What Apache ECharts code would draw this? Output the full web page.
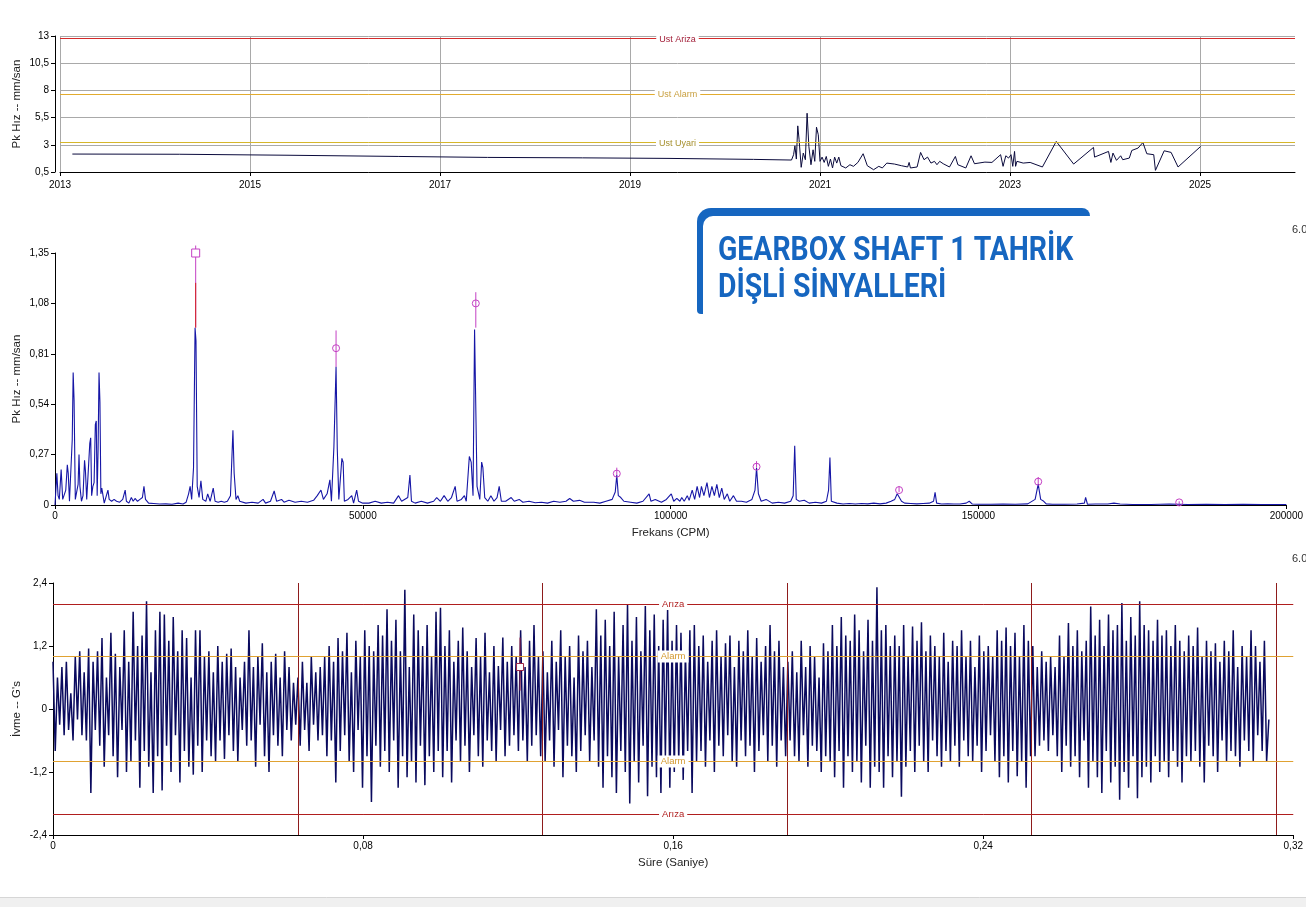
<!DOCTYPE html>
<html><head><meta charset="utf-8">
<script src="https://cdn.jsdelivr.net/npm/echarts@6/dist/echarts.min.js"></script>
<style>html,body{margin:0;padding:0;background:#fff;overflow:hidden}#c{width:1306px;height:907px}</style>
</head><body><div id="c"></div>
<script>
// ---------- DATA ----------
// Trend (top): [year, Pk velocity mm/s]
const trendPoints = [[2013.13,2.15],[2014.26,2.13],[2014.28,2.06],[2015.40,2.04],[2015.42,1.97],[2016.56,1.93],[2016.58,1.88],[2017.5,1.84],[2018.5,1.80],[2019.4,1.75],[2020.3,1.66],[2020.70,1.60],
[2020.722,2.09],[2020.736,2.91],[2020.751,1.69],[2020.766,4.74],[2020.780,3.46],[2020.802,0.93],[2020.824,2.24],[2020.846,1.63],[2020.864,5.90],[2020.883,2.85],[2020.905,1.17],[2020.927,2.54],[2020.945,1.48],[2020.963,4.62],[2020.982,3.92],
[2021.0,1.48],[2021.022,1.87],[2021.044,1.38],[2021.066,1.93],[2021.088,1.02],[2021.110,1.69],[2021.132,0.87],[2021.154,1.87],[2021.176,1.32],[2021.198,1.87],[2021.220,1.08],[2021.271,0.87],[2021.315,1.17],[2021.352,1.02],[2021.399,1.38],[2021.454,2.18],[2021.498,1.08],[2021.564,0.71],[2021.619,1.02],[2021.656,0.87],[2021.703,1.32],[2021.784,1.23],[2021.857,1.08],[2021.923,0.96],[2021.938,1.38],[2021.952,0.87],
[2022.022,0.96],[2022.059,2.30],[2022.095,1.63],[2022.132,1.87],[2022.168,1.32],[2022.205,1.48],[2022.231,1.17],[2022.260,1.48],[2022.297,1.26],[2022.363,0.96],[2022.425,1.93],[2022.451,1.17],[2022.535,0.87],[2022.590,1.99],[2022.626,1.26],[2022.736,1.41],[2022.810,1.38],[2022.901,2.09],[2022.927,1.02],[2022.956,1.99],[2022.985,1.78],
[2023.011,2.09],[2023.029,1.02],[2023.048,2.39],[2023.059,1.02],[2023.073,1.48],[2023.139,1.32],[2023.212,1.38],[2023.341,0.96],[2023.487,3.31],[2023.670,1.23],[2023.879,2.76],[2023.890,1.87],
[2024.037,2.39],[2024.062,1.38],[2024.084,2.24],[2024.121,1.57],[2024.165,1.99],[2024.187,1.63],[2024.256,1.78],[2024.282,2.48],[2024.348,2.70],[2024.399,3.21],[2024.440,2.18],[2024.513,2.09],[2024.531,0.65],[2024.623,2.45],[2024.696,2.30],[2024.769,0.96],[2025.007,2.85]];
const trendLimitValues = [12.75, 7.65, 3.2];
const trendLimitNames = ['Ust Ariza', 'Ust Alarm', 'Ust Uyari'];

// Spectrum (middle): [CPM, Pk velocity mm/s]
const spectrum = [[0,0.0],[300,0.17],[500,0.05],[700,0.03],[1000,0.19],[1250,0.03],[1500,0.02],[1750,0.08],[2000,0.215],[2150,0.17],[2350,0.02],[2600,0.03],[2800,0.35],[2950,0.71],[3100,0.56],[3300,0.03],[3500,0.02],[3750,0.11],[3900,0.27],[4050,0.1],[4300,0.02],[4550,0.05],[4800,0.24],[4950,0.18],[5150,0.03],[5400,0.04],[5650,0.33],[5800,0.36],[5950,0.05],[6150,0.1],[6350,0.12],[6550,0.43],[6700,0.45],[6850,0.05],[7000,0.3],[7150,0.71],[7300,0.55],[7450,0.06],[7600,0.09],[7800,0.09],[8000,0.01],[8300,0.02],[8600,0.08],[8800,0.03],[9200,0.02],[9600,0.03],[10000,0.02],[10500,0.015],[11000,0.03],[11400,0.08],[11600,0.02],[12000,0.01],[12400,0.04],[12700,0.02],[13000,0.035],[13400,0.02],[13800,0.03],[14200,0.04],[14450,0.1],[14700,0.03],[15200,0.01],[16000,0.008],[17000,0.005],[18000,0.006],[19000,0.004],[20000,0.01],[20800,0.005],[21300,0.015],[21700,0.06],[21950,0.1],[22200,0.03],[22500,0.2],[22750,0.95],[22900,0.88],[23100,0.1],[23400,0.04],[23700,0.13],[24000,0.03],[24500,0.02],[24800,0.06],[25200,0.02],[25700,0.09],[26000,0.02],[26500,0.015],[27000,0.02],[27500,0.015],[28000,0.02],[28500,0.05],[28900,0.4],[29100,0.17],[29400,0.03],[29700,0.05],[30000,0.02],[31000,0.01],[32000,0.015],[33000,0.01],[33800,0.03],[34200,0.01],[35000,0.02],[35600,0.075],[36000,0.02],[36800,0.03],[37200,0.015],[38000,0.025],[39000,0.015],[40000,0.02],[41000,0.015],[42000,0.025],[42600,0.05],[43200,0.08],[43600,0.03],[44200,0.06],[44650,0.135],[44900,0.02],[45300,0.31],[45650,0.74],[45850,0.3],[46100,0.03],[46600,0.25],[46800,0.23],[47000,0.02],[47600,0.03],[48200,0.05],[48500,0.01],[49000,0.08],[49300,0.02],[50000,0.01],[51000,0.01],[52000,0.02],[53000,0.01],[54000,0.015],[55000,0.01],[55800,0.05],[56300,0.02],[57300,0.04],[57650,0.16],[57900,0.02],[58500,0.01],[59500,0.02],[60500,0.01],[61500,0.02],[62000,0.04],[62600,0.02],[63200,0.05],[63800,0.02],[64400,0.04],[65000,0.1],[65300,0.02],[66000,0.03],[66500,0.05],[66800,0.02],[67300,0.26],[67600,0.23],[67900,0.05],[68150,0.94],[68350,0.95],[68550,0.1],[69000,0.03],[69300,0.23],[69500,0.2],[69800,0.04],[70300,0.02],[70800,0.05],[71300,0.02],[71800,0.04],[72150,0.1],[72500,0.02],[73200,0.02],[74100,0.04],[74600,0.02],[75400,0.03],[76000,0.015],[77000,0.02],[78000,0.012],[79000,0.015],[80000,0.01],[81000,0.02],[82000,0.015],[83000,0.02],[83600,0.035],[84200,0.02],[85200,0.025],[86000,0.015],[87500,0.015],[88500,0.01],[89500,0.02],[90500,0.03],[91000,0.07],[91250,0.16],[91500,0.05],[91900,0.04],[92400,0.02],[93500,0.015],[94500,0.01],[95500,0.02],[96500,0.06],[96800,0.02],[97500,0.03],[98500,0.015],[99300,0.03],[100100,0.06],[100500,0.02],[101000,0.035],[101500,0.02],[101800,0.04],[102200,0.02],[102700,0.05],[103000,0.025],[103500,0.08],[103900,0.03],[104300,0.1],[104700,0.04],[105000,0.1],[105400,0.05],[105900,0.12],[106300,0.04],[106700,0.1],[107100,0.05],[107500,0.11],[107900,0.04],[108300,0.09],[108700,0.03],[109200,0.06],[109600,0.02],[110200,0.05],[110700,0.02],[111500,0.02],[112300,0.015],[113200,0.03],[113700,0.08],[113950,0.2],[114250,0.06],[114700,0.02],[115500,0.03],[116500,0.01],[117500,0.015],[118500,0.01],[119500,0.02],[119900,0.05],[120150,0.317],[120400,0.03],[120900,0.02],[121700,0.025],[122500,0.01],[123500,0.015],[124500,0.01],[125300,0.02],[125650,0.08],[125870,0.255],[126100,0.02],[127000,0.01],[128000,0.005],[129000,0.008],[130000,0.005],[131000,0.008],[132000,0.006],[133000,0.01],[134000,0.006],[135000,0.01],[135800,0.02],[136400,0.03],[136800,0.06],[137100,0.07],[137500,0.02],[138000,0.01],[139000,0.008],[140000,0.006],[141000,0.008],[142000,0.01],[142700,0.02],[142950,0.068],[143200,0.01],[144000,0.005],[145000,0.006],[146000,0.005],[147000,0.005],[148000,0.01],[148500,0.02],[149000,0.005],[150000,0.004],[152000,0.004],[154000,0.005],[156000,0.004],[158000,0.006],[159200,0.03],[159700,0.112],[160100,0.03],[160600,0.02],[161000,0.006],[162000,0.004],[164000,0.004],[166000,0.005],[167200,0.01],[167400,0.041],[167700,0.004],[169000,0.005],[171000,0.005],[172000,0.01],[173000,0.005],[175000,0.003],[178000,0.003],[181000,0.005],[184000,0.003],[187000,0.004],[190000,0.003],[193000,0.004],[196000,0.003],[200000,0.003]];

// Harmonic cursor markers (middle)
const harmFreq  = [22850, 45650, 68350, 91250, 113950, 137100, 159700, 182600];
const harmBase  = [0.95, 0.74, 0.95, 0.16, 0.20, 0.07, 0.112, 0.004];
const harmMark  = [1.35, 0.84, 1.08, 0.168, 0.205, 0.08, 0.125, 0.014];
const harmTop   = [1.39, 0.935, 1.14, 0.20, 0.235, 0.10, 0.15, 0.02];
const harmRed   = [1.19, 0, 0, 0, 0, 0, 0, 0];
const harmShape = [1, 0, 0, 0, 0, 0, 0, 0];

// Waveform (bottom): acceleration G's, one array per shaft revolution
const waveRev1 = [0.9,-0.8,0.6,-0.3,0.8,-0.5,0.9,-0.4,0.3,
-0.6,1.0,-0.2,1.1,-0.5,0.7,-0.6,1.15,-1.6,0.9,-0.4,1.1,
-0.7,1.35,-1.1,0.6,-0.5,1.45,-0.9,1.05,-1.3,0.8,-0.4,1.5,-1.2,0.9,
-1.0,1.85,-0.6,1.2,-1.5,1.4,-0.8,2.05,-1.1,0.7,-1.6,1.5,-0.9,1.85,-1.55,1.8,-0.7,
1.3,-1.2,1.75,-0.5,1.1,-1.4,1.5,-0.8,1.35,-1.1,0.6,-1.25,1.5,-0.7,1.5,-1.2,1.0,-0.6,
1.1,-0.9,0.7,-1.0,1.2,-0.6,0.9,-0.95,1.05,-0.5,1.15,-0.8,0.8,-1.0,0.6,-0.4,0.9,
-0.7,1.5,-0.6,0.8,-1.1,1.0,-0.3,1.25,-0.9,0.7,-1.2,0.9,-0.5,1.05,-0.7,0.6,-0.9,1.1,-0.4,0.8,-0.6,0.5,-0.3];
const waveRev2 = [0.6,-0.7,0.9,-0.4,0.5,-0.8,1.0,-0.3,0.7,-0.6,0.8,-0.5,
1.0,-0.9,1.2,-0.6,0.9,-1.4,1.35,-0.8,1.1,-0.5,1.45,-1.0,0.7,-1.2,1.3,-0.4,1.0,-1.5,1.5,-0.9,1.2,-1.77,1.1,-0.7,1.6,-1.1,
1.4,-0.8,1.9,-1.2,1.3,-0.6,1.7,-1.5,1.1,-0.9,2.27,-1.3,0.8,-1.0,1.8,-1.4,1.5,-0.7,1.2,-1.45,1.6,-0.9,1.0,-1.2,1.85,-0.8,
1.93,-1.3,1.2,-0.8,1.5,-1.4,0.9,-0.6,1.3,-1.0,1.55,-0.7,1.1,-1.2,0.8,-0.5,1.35,-0.9,1.0,-1.1,1.45,-0.6,0.7,-0.8,1.2,-1.0,0.82,-0.4,1.36,-0.9,0.9,-0.7,1.2,-0.5,1.0,-0.8,1.5,-0.6,0.8,-1.0,1.3,-0.7,1.6,-0.5,1.0,-0.9];
const waveRev3 = [1.1,-1.0,0.7,-0.6,1.3,-1.1,0.9,-0.4,1.5,-1.3,1.0,-0.7,1.2,-0.9,0.6,-1.2,1.4,-0.8,1.1,-0.5,1.3,-1.0,0.8,-0.6,
1.9,-1.1,1.4,-1.5,1.7,-0.9,1.2,-1.3,1.85,-1.6,1.0,-0.8,1.6,-1.2,2.0,-1.8,1.3,-1.0,1.75,-1.4,1.1,-0.7,1.96,-1.66,1.5,-1.1,1.8,-1.3,1.2,-1.6,1.7,-0.9,1.9,-1.5,1.3,-1.2,1.6,-1.0,1.45,-1.35,1.1,-0.8,1.5,-1.6,
1.6,-1.0,1.2,-0.8,1.4,-1.1,0.9,-0.6,1.3,-1.2,1.5,-0.7,1.0,-0.9,1.25,-0.5,1.4,-1.0,0.8,-1.1,1.3,-0.6,1.1,-0.9,1.5,-0.7,1.0,-1.2,1.35,-0.8,0.9,-0.5,1.2,-1.0,1.6,-0.7,1.1,-1.1,1.3,-0.6,0.8,-0.9];
const waveRev4 = [0.9,-0.6,1.1,-0.9,0.7,-1.0,1.3,-0.5,0.8,-1.1,1.2,-0.7,1.0,-0.8,0.6,-1.2,1.25,-0.9,1.1,
-1.0,1.6,-1.3,1.2,-0.8,1.75,-1.5,1.4,-0.9,1.3,-1.2,1.8,-1.0,1.5,-1.4,1.1,-0.7,1.7,-1.5,1.3,-1.1,2.32,-1.2,1.5,-1.5,1.6,-0.9,1.2,-1.3,1.4,-1.0,
1.2,-1.67,1.6,-1.1,1.0,-0.8,1.57,-1.2,1.3,-0.7,1.65,-1.0,1.1,-1.2,1.4,-0.6,1.2,-0.9,1.0,-1.1,1.45,-0.8,0.9,-1.0,1.3,-0.7,1.2,-1.1,1.5,-0.6,1.0,-0.9,1.3,-1.0,0.8,-0.7,1.4,-1.2,1.1,-0.8,1.2,-0.5,1.0,-1.0,1.5,-1.3,1.3,-0.9,1.55,-1.4,1.2,-0.8,1.45,-1.28,1.0,-1.0,1.6,-1.5,1.3,-0.9];
const waveRev5 = [1.2,-0.9,0.8,-0.7,1.1,-0.6,0.9,-0.8,1.0,-0.5,0.8,
-0.9,1.4,-1.2,1.0,-0.7,1.64,-1.1,1.2,-0.9,1.5,-1.3,1.1,-0.6,1.3,
-1.5,1.95,-1.0,1.4,-1.3,1.7,-1.6,1.2,-0.8,1.8,-1.4,1.5,-1.1,1.6,-1.73,2.02,-1.2,1.3,-1.5,1.75,-0.9,1.4,-1.7,2.05,-1.3,1.6,-1.1,1.5,-1.4,1.3,-0.9,1.7,-1.2,1.4,-1.0,1.5,-1.3,1.2,-0.8,1.6,-1.1,1.3,-1.4,1.1,-0.9,
1.4,-1.0,1.2,-0.8,1.55,-1.1,1.0,-1.4,1.3,-0.7,1.1,-0.9,1.25,-1.2,0.9,-0.6,1.3,-1.0,1.1,-0.8,1.5,-0.9,0.8,-1.1,1.2,-0.6,1.0,-0.8,1.5,-1.0,1.2,-0.5,0.9,-0.8,1.3,-1.0,-0.2];
const waveDuration = 0.3137;           // seconds covered by the record
const waveLimitValues = [2.0, 1.0, -1.0, -2.0];
const waveLimitNames  = ['Arıza', 'Alarm', 'Alarm', 'Arıza'];
const revMarks = [0.0631, 0.1262, 0.1893, 0.2524, 0.3155];
const waveCursor = [0.1205, 0.8, 1.36, 0.35]; // time, marker value, line top, line bottom

// ---------- BUILD ----------
const wave = [].concat(waveRev1, waveRev2, waveRev3, waveRev4, waveRev5);
const dt = waveDuration / (wave.length - 1);
const waveData = wave.map((v, i) => [i * dt, v]);
const harmData = harmFreq.map((f, i) => [f, harmBase[i], harmMark[i], harmTop[i], harmRed[i], harmShape[i]]);

const FONT = 'Liberation Sans, Arial, sans-serif';
const comma = (v, d) => { const r = Number(v.toFixed(d)); return String(r).replace('.', ','); };
const lbl = (fmt) => ({ fontFamily: FONT, fontSize: 10, color: '#000', margin: 6, formatter: fmt });
const axLine = { show: true, onZero: false, lineStyle: { color: '#000', width: 1 } };
const axTick = { show: true, length: 4, lineStyle: { color: '#000' } };
const nameStyle = { fontFamily: FONT, fontSize: 11.5, color: '#222' };

const chart = echarts.init(document.getElementById('c'), null, { renderer: 'canvas' });

const trendColors = ['#d42a2a', '#e2ab2e', '#d6b62a'];
const trendLabelColors = ['#a3203a', '#c9a040', '#a58f2c'];
const waveColors = ['#b01e1e', '#e0a232', '#e0a232', '#b01e1e'];
const waveLabelColors = ['#b01e1e', '#d49a30', '#d49a30', '#b01e1e'];

const option = {
  animation: false,
  backgroundColor: '#fff',
  grid: [
    { left: 60, right: 11, top: 36, height: 136 },
    { left: 55, right: 9, top: 253, height: 252 },
    { left: 53, right: 11, top: 583, height: 252 }
  ],
  xAxis: [
    { gridIndex: 0, type: 'value', min: 2013, max: 2026, interval: 2,
      axisLine: axLine, axisTick: axTick,
      axisLabel: Object.assign(lbl(v => String(v)), { showMaxLabel: false, margin: 8 }),
      splitLine: { show: true, showMaxLine: false, lineStyle: { color: '#a9a9a9', width: 1 } } },
    { gridIndex: 1, type: 'value', min: 0, max: 200000, interval: 50000,
      axisLine: axLine, axisTick: axTick, axisLabel: lbl(v => String(v)), splitLine: { show: false },
      name: 'Frekans (CPM)', nameLocation: 'middle', nameGap: 22, nameMoveOverlap: false, nameTextStyle: nameStyle },
    { gridIndex: 2, type: 'value', min: 0, max: 0.32, interval: 0.08,
      axisLine: axLine, axisTick: axTick, axisLabel: lbl(v => comma(v, 2)), splitLine: { show: false },
      name: 'Süre (Saniye)', nameLocation: 'middle', nameGap: 22, nameMoveOverlap: false, nameTextStyle: nameStyle }
  ],
  yAxis: [
    { gridIndex: 0, type: 'value', min: 0.5, max: 13, interval: 2.5, offset: 5,
      axisLine: axLine, axisTick: axTick, axisLabel: lbl(v => comma(v, 1)),
      splitLine: { show: true, lineStyle: { color: '#a9a9a9', width: 1 } },
      name: 'Pk Hız -- mm/san', nameLocation: 'middle', nameGap: 32, nameMoveOverlap: false, nameTextStyle: nameStyle },
    { gridIndex: 1, type: 'value', min: 0, max: 1.35, interval: 0.27,
      axisLine: axLine, axisTick: axTick, axisLabel: lbl(v => comma(v, 2)), splitLine: { show: false },
      name: 'Pk Hız -- mm/san', nameLocation: 'middle', nameGap: 32, nameMoveOverlap: false, nameTextStyle: nameStyle },
    { gridIndex: 2, type: 'value', min: -2.4, max: 2.4, interval: 1.2,
      axisLine: axLine, axisTick: axTick, axisLabel: lbl(v => comma(v, 1)), splitLine: { show: false },
      name: 'İvme -- G\'s', nameLocation: 'middle', nameGap: 30, nameMoveOverlap: false, nameTextStyle: nameStyle }
  ],
  series: [
    { type: 'line', xAxisIndex: 0, yAxisIndex: 0, data: [], z: 1,
      markLine: { silent: true, symbol: 'none', animation: false, precision: 3,
        data: trendLimitValues.map((v, i) => ({ yAxis: v,
          lineStyle: { color: trendColors[i], width: 1, type: 'solid' },
          label: { show: true, position: 'middle', formatter: trendLimitNames[i], color: trendLabelColors[i],
            fontFamily: FONT, fontSize: 9, backgroundColor: '#fff', padding: [1, 3], distance: -6 } })) } },
    { type: 'line', xAxisIndex: 0, yAxisIndex: 0, data: trendPoints, showSymbol: false, z: 3,
      lineStyle: { color: '#0a0a3c', width: 1 } },
    { type: 'line', xAxisIndex: 1, yAxisIndex: 1, data: spectrum, showSymbol: false, z: 3, sampling: 'none',
      lineStyle: { color: '#1616a6', width: 1.1 } },
    { type: 'custom', xAxisIndex: 1, yAxisIndex: 1, data: harmData, z: 4, clip: false,
      renderItem: function (params, api) {
        const f = api.value(0);
        const pB = api.coord([f, api.value(1)]);
        const pM = api.coord([f, api.value(2)]);
        const pT = api.coord([f, api.value(3)]);
        const ch = [{ type: 'line', shape: { x1: pB[0], y1: pB[1], x2: pT[0], y2: pT[1] }, style: { stroke: '#c440c4', lineWidth: 1 } }];
        const red = api.value(4);
        if (red > 0) {
          const pR = api.coord([f, red]);
          ch.push({ type: 'line', shape: { x1: pB[0], y1: pB[1], x2: pR[0], y2: pR[1] }, style: { stroke: '#d42020', lineWidth: 1 } });
        }
        if (api.value(5) === 1) ch.push({ type: 'rect', shape: { x: pM[0] - 4, y: pM[1] - 4, width: 8, height: 8 }, style: { stroke: '#c440c4', fill: '#fff', lineWidth: 1 } });
        else ch.push({ type: 'circle', shape: { cx: pM[0], cy: pM[1], r: 3.5 }, style: { stroke: '#c440c4', fill: 'none', lineWidth: 1 } });
        return { type: 'group', children: ch };
      } },
    { type: 'line', xAxisIndex: 2, yAxisIndex: 2, data: [], z: 1,
      markLine: { silent: true, symbol: 'none', animation: false, precision: 3,
        data: waveLimitValues.map((v, i) => ({ yAxis: v,
          lineStyle: { color: waveColors[i], width: 1, type: 'solid' },
          label: { show: true, position: 'middle', formatter: waveLimitNames[i], color: waveLabelColors[i],
            fontFamily: FONT, fontSize: 9.5, backgroundColor: '#fff', padding: [1, 3], distance: -6 } })) } },
    { type: 'line', xAxisIndex: 2, yAxisIndex: 2, data: waveData, showSymbol: false, z: 3, sampling: 'none',
      lineStyle: { color: '#0a0a5e', width: 1.5 } },
    { type: 'custom', xAxisIndex: 2, yAxisIndex: 2, data: revMarks.map(t => [t]), z: 4, clip: false,
      renderItem: function (params, api) {
        const t = api.value(0);
        const a = api.coord([t, 2.4]);
        const b = api.coord([t, -2.4]);
        return { type: 'line', shape: { x1: Math.round(a[0]) + 0.5, y1: a[1], x2: Math.round(b[0]) + 0.5, y2: b[1] }, style: { stroke: '#8e1c1c', lineWidth: 1 } };
      } },
    { type: 'custom', xAxisIndex: 2, yAxisIndex: 2, data: [waveCursor], z: 4, clip: false,
      renderItem: function (params, api) {
        const t = api.value(0);
        const pM = api.coord([t, api.value(1)]);
        const pT = api.coord([t, api.value(2)]);
        const pB = api.coord([t, api.value(3)]);
        return { type: 'group', children: [
          { type: 'line', shape: { x1: pT[0], y1: pT[1], x2: pB[0], y2: pB[1] }, style: { stroke: '#9c2444', lineWidth: 1 } },
          { type: 'rect', shape: { x: pM[0] - 3.5, y: pM[1] - 3.5, width: 7, height: 7 }, style: { stroke: '#9c2444', fill: '#fff', lineWidth: 1 } }
        ] };
      } }
  ],
  graphic: [
    { type: 'rect', z: 100, shape: { x: 697, y: 208, width: 393, height: 106, r: [14, 8, 0, 4] }, style: { fill: '#1666c0' } },
    { type: 'rect', z: 101, shape: { x: 703, y: 216, width: 390, height: 98, r: [10, 0, 0, 0] }, style: { fill: '#fff' } },
    { type: 'text', z: 102, x: 718, y: 252, scaleX: 0.86,
      style: { text: 'GEARBOX SHAFT 1 TAHRİK', font: 'bold 33px Roboto', fill: '#1666c0', align: 'left', verticalAlign: 'middle' } },
    { type: 'text', z: 102, x: 718, y: 289, scaleX: 0.86,
      style: { text: 'DİŞLİ SİNYALLERİ', font: 'bold 33px Roboto', fill: '#1666c0', align: 'left', verticalAlign: 'middle' } },
    { type: 'text', z: 102, x: 1292, y: 230, style: { text: '6.00', font: '11px Liberation Sans', fill: '#333', verticalAlign: 'middle' } },
    { type: 'text', z: 102, x: 1292, y: 559, style: { text: '6.00', font: '11px Liberation Sans', fill: '#333', verticalAlign: 'middle' } },
    { type: 'rect', z: 100, shape: { x: 0, y: 897, width: 1306, height: 10 }, style: { fill: '#f0f0f0' } },
    { type: 'line', z: 101, shape: { x1: 0, y1: 897.5, x2: 1306, y2: 897.5 }, style: { stroke: '#d6d6d6', lineWidth: 1 } }
  ]
};
chart.setOption(option);
</script>
</body></html>
